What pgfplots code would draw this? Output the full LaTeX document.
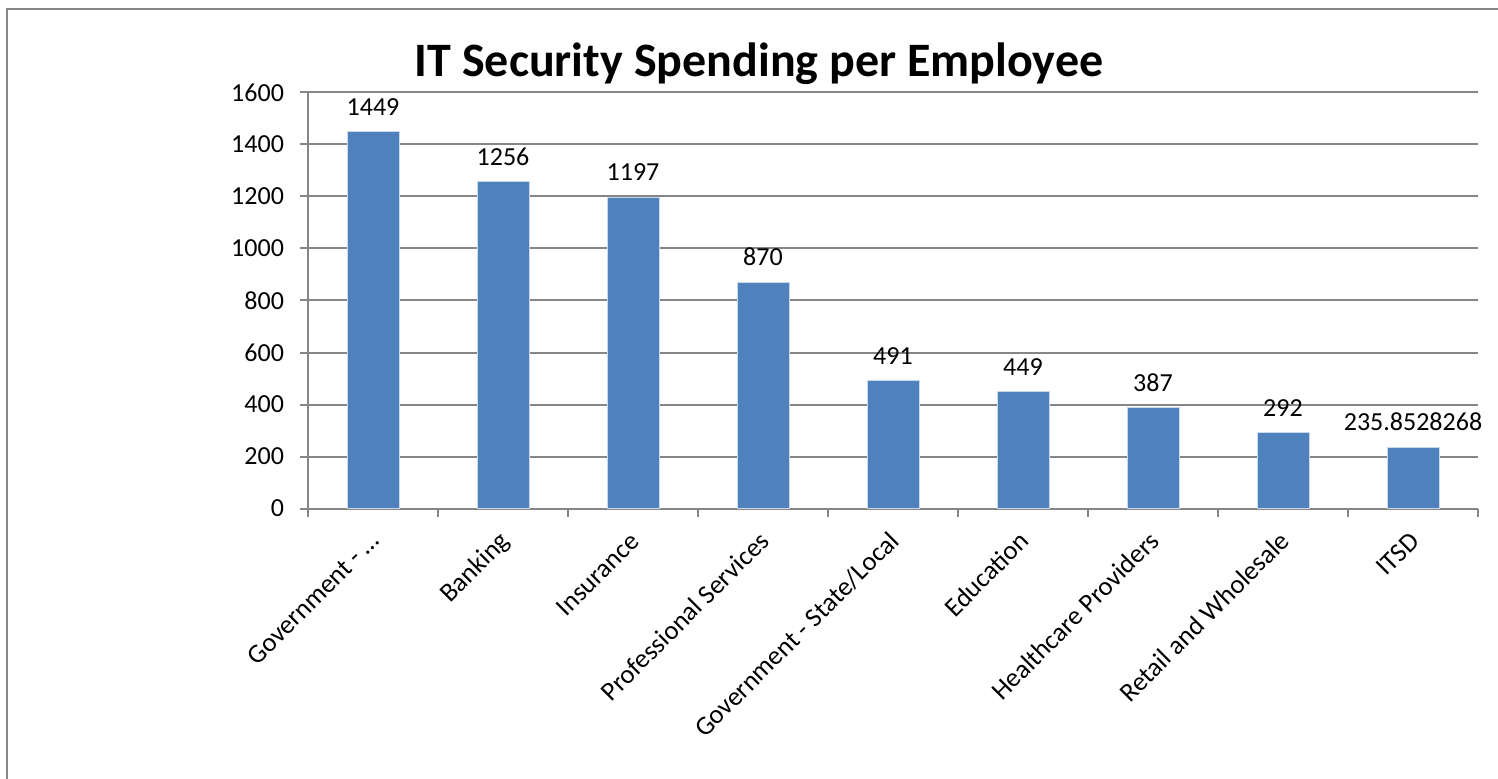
\documentclass[border=0pt]{standalone}
\usepackage{fontspec}
\setmainfont{Carlito}
\usepackage{pgfplots}
\pgfplotsset{compat=1.18}
\usepackage{pgfplotstable}
\definecolor{barblue}{HTML}{4F81BD}
\definecolor{gridgray}{HTML}{868686}
\pgfplotstableread{
x y lab
0 1449 1449
1 1256 1256
2 1197 1197
3 870 870
4 491 491
5 449 449
6 387 387
7 292 292
8 235.8528268 235.8528268
}\datatable
\begin{document}
\begin{tikzpicture}
\useasboundingbox (0,0) rectangle (749pt,-389.5pt);
\clip (0,0) rectangle (749pt,-389.5pt);
\draw[gridgray, line width=1pt] (3.5pt,-400pt) -- (3.5pt,-4.75pt) -- (760pt,-4.75pt);
\node[font=\bfseries\fontsize{24}{28}\selectfont, anchor=base, inner sep=0pt] at (379.5pt,-38.5pt) {IT Security Spending per Employee};
\begin{axis}[
  at={(154pt,-254.25pt)}, anchor=south west,
  scale only axis, width=585pt, height=208pt,
  xmin=-0.5, xmax=8.5, ymin=0, ymax=1600,
  ytick={0,200,400,600,800,1000,1200,1400,1600},
  xtick={-0.5,0.5,1.5,2.5,3.5,4.5,5.5,6.5,7.5,8.5},
  x tick label as interval,
  xticklabels={Government - …, Banking, Insurance, Professional Services, Government - State/Local, Education, Healthcare Providers, Retail and Wholesale, ITSD},
  axis x line*=bottom, axis y line*=left,
  axis line style={gridgray, line width=1pt, -},
  tick style={gridgray, line width=1pt},
  tick align=outside, major tick length=4pt,
  ymajorgrids, grid style={gridgray, line width=1pt},
  /pgf/number format/assume math mode=true,
  /pgf/number format/1000 sep={},
  scaled y ticks=false,
  yticklabel style={font=\fontsize{13}{15}\selectfont, text=black, xshift=-4.5pt},
  xticklabel style={font=\fontsize{13.3}{15}\selectfont, text=black, text height=9.75pt, inner sep=0pt, xshift=-3pt, yshift=-6pt, rotate=45, anchor=north east},
  ybar, bar width=26pt,
  nodes near coords, point meta=explicit symbolic,
  every node near coord/.append style={font=\fontsize{13}{15}\selectfont, text=black, inner sep=0pt, yshift=8pt},
]
\addplot[fill=barblue, draw=white!70!barblue, line width=0.5pt] table[x=x, y=y, meta=lab] {\datatable};
\end{axis}
\end{tikzpicture}
\end{document}
